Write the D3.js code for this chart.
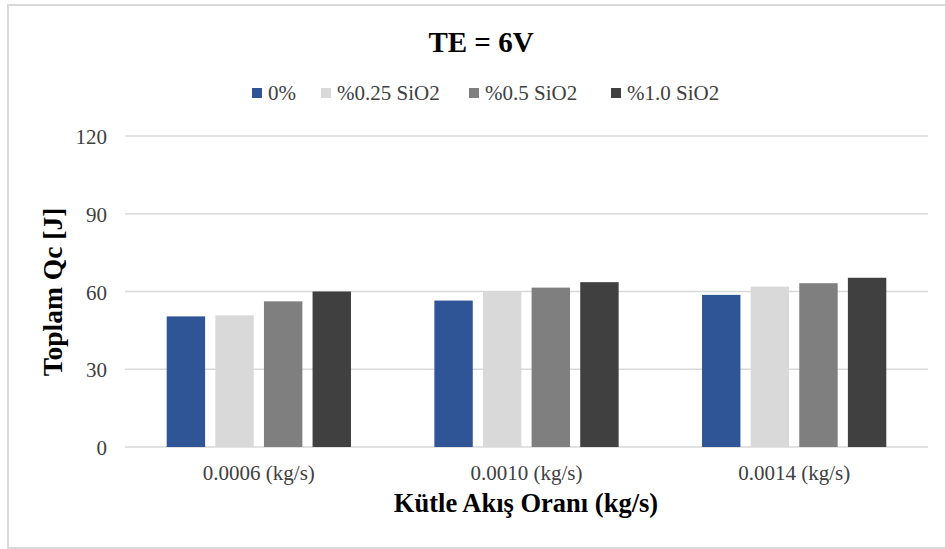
<!DOCTYPE html>
<html><head><meta charset="utf-8">
<script src="https://cdn.jsdelivr.net/npm/d3@7"></script>
<style>body{margin:0;background:#fff}svg{display:block}</style>
</head><body>
<script>
const categories = ["0.0006 (kg/s)", "0.0010 (kg/s)", "0.0014 (kg/s)"];
const seriesNames = ["0%", "%0.25 SiO2", "%0.5 SiO2", "%1.0 SiO2"];
const s0 = [50.4, 56.5, 58.7];
const s025 = [50.8, 60.0, 61.9];
const s05 = [56.2, 61.5, 63.2];
const s10 = [60.0, 63.6, 65.3];
const seriesValues = [s0, s025, s05, s10];
const colors = ["#2f5597", "#d9d9d9", "#7f7f7f", "#404040"];
const yTicks = [0, 30, 60, 90, 120];

const FONT = "'Liberation Serif', 'Times New Roman', serif";
const W = 945, H = 549;
const svg = d3.select("body").append("svg").attr("width", W).attr("height", H)
  .attr("font-family", FONT);
svg.append("rect").attr("x", 8).attr("y", 5).attr("width", W + 10).attr("height", H - 6)
  .attr("fill", "#fff").attr("stroke", "#d9d9d9").attr("stroke-width", 2);

const x0 = d3.scaleBand().domain(categories).range([125, 928]).paddingInner(0.3115).paddingOuter(0.1558);
const x1 = d3.scaleBand().domain(seriesNames).range([0, x0.bandwidth()]).paddingInner(0.21);
const y = d3.scaleLinear().domain([0, 120]).range([447, 136]);

// gridlines
svg.append("g").selectAll("line").data(yTicks).join("line")
  .attr("x1", 125).attr("x2", 928).attr("y1", d => y(d)).attr("y2", d => y(d))
  .attr("stroke", "#d9d9d9").attr("stroke-width", 1.5);

// y axis labels
const yAxis = d3.axisLeft(y).tickValues(yTicks).tickSize(0).tickPadding(0);
const gy = svg.append("g").attr("transform", "translate(107,0)").call(yAxis);
gy.select(".domain").remove();
gy.selectAll("text").attr("font-size", 21).attr("fill", "#404040")
  .attr("font-family", FONT).attr("dy", "0.36em");

// bars
const groups = svg.append("g").selectAll("g").data(categories).join("g")
  .attr("transform", d => `translate(${x0(d)},0)`);
groups.selectAll("rect").data((c, i) => seriesNames.map((s, k) => ({s, v: seriesValues[k][i], k})))
  .join("rect")
  .attr("x", d => x1(d.s)).attr("width", x1.bandwidth())
  .attr("y", d => y(d.v)).attr("height", d => y(0) - y(d.v))
  .attr("fill", d => colors[d.k]);

// x axis labels
const xAxis = d3.axisBottom(x0).tickSize(0).tickPadding(0);
const gx = svg.append("g").attr("transform", "translate(0,465)").call(xAxis);
gx.select(".domain").remove();
gx.selectAll("text").attr("font-size", 21).attr("fill", "#404040")
  .attr("font-family", FONT).attr("dy", "0.72em");

// title
svg.append("text").attr("x", 481).attr("y", 52).attr("text-anchor", "middle")
  .attr("font-size", 29).attr("font-weight", "bold").attr("fill", "#000").text("TE = 6V");

// legend
const legX = [252, 321, 469, 611];
const leg = svg.append("g").selectAll("g").data(seriesNames).join("g")
  .attr("transform", (d, i) => `translate(${legX[i]},0)`);
leg.append("rect").attr("x", 0).attr("y", 88).attr("width", 10).attr("height", 10)
  .attr("fill", (d, i) => colors[i]);
leg.append("text").attr("x", 16).attr("y", 100).attr("font-size", 21)
  .attr("font-family", FONT).attr("fill", "#404040").text(d => d);

// axis titles
svg.append("text").attr("x", 526).attr("y", 512).attr("text-anchor", "middle")
  .attr("font-size", 26.5).attr("font-weight", "bold").attr("fill", "#000").text("Kütle Akış Oranı (kg/s)");
svg.append("text").attr("transform", "translate(62,292) rotate(-90)").attr("text-anchor", "middle")
  .attr("font-size", 27.5).attr("font-weight", "bold").attr("fill", "#000").text("Toplam Qc [J]");
</script>
</body></html>
